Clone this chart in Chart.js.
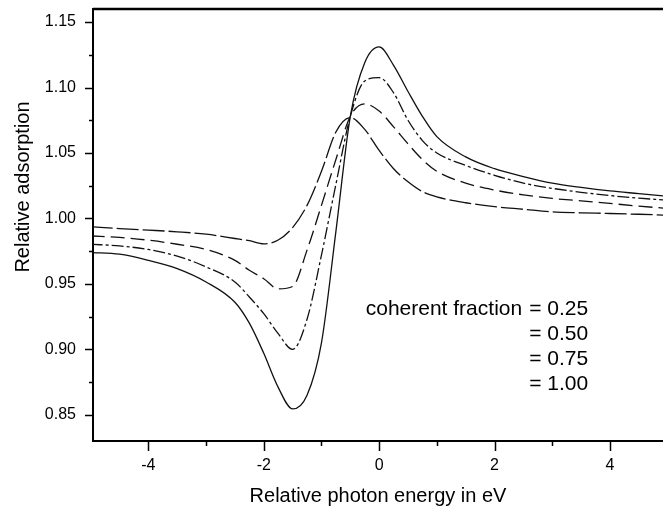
<!DOCTYPE html>
<html lang="en">
<head>
    <meta charset="UTF-8">
    <title>Relative adsorption vs photon energy</title>
    <script src="https://cdn.jsdelivr.net/npm/chart.js"></script>
    <style>
        html, body { margin: 0; padding: 0; background: #fff; }
        #wrap { width: 663px; height: 514px; }
    </style>
</head>
<body>
    <div id="wrap"><canvas id="myChart" width="663" height="514"></canvas></div>
    <script>
        // relative photon energy (eV)
        const energy = [-5, -4.5, -4, -3.5, -3, -2.5, -2.25, -2, -1.75, -1.5, -1.25, -1, -0.75, -0.5, -0.25,
                        0, 0.25, 0.5, 0.75, 1, 1.5, 2, 2.5, 3, 3.5, 4, 4.5, 5];

        // relative adsorption for each coherent fraction
        const frac025 = [0.9936, 0.9923, 0.9911, 0.9898, 0.988, 0.9847, 0.983, 0.9806, 0.9835, 0.993, 1.010, 1.036, 1.066, 1.077, 1.068,
                         1.052, 1.038, 1.028, 1.0205, 1.0165, 1.012, 1.009, 1.007, 1.005, 1.0043, 1.0038, 1.0032, 1.0025];
        const frac050 = [0.9867, 0.9855, 0.9834, 0.9803, 0.9763, 0.968, 0.9604, 0.954, 0.9462, 0.948, 0.9758, 1.010, 1.045, 1.078, 1.0875,
                         1.082, 1.070, 1.057, 1.045, 1.036, 1.027, 1.0217, 1.018, 1.0153, 1.0135, 1.0115, 1.0094, 1.0077];
        const frac075 = [0.9803, 0.979, 0.9763, 0.9712, 0.963, 0.9515, 0.940, 0.9273, 0.912, 0.900, 0.923, 0.972, 1.026, 1.078, 1.105,
                         1.1076, 1.096, 1.075, 1.0595, 1.050, 1.0405, 1.033, 1.027, 1.023, 1.020, 1.0175, 1.0155, 1.014];
        const frac100 = [0.974, 0.9727, 0.968, 0.9617, 0.9515, 0.936, 0.920, 0.897, 0.871, 0.8545, 0.865, 0.905, 0.99, 1.078, 1.119,
                         1.131, 1.117, 1.097, 1.078, 1.0625, 1.047, 1.038, 1.032, 1.027, 1.0237, 1.021, 1.019, 1.017];

        const fractionLabels = ['0.25', '0.50', '0.75', '1.00'];
        const xTickLabels = [-4, -2, 0, 2, 4];
        const yTickLabels = [0.85, 0.90, 0.95, 1.00, 1.05, 1.10, 1.15];

        const series = [frac025, frac050, frac075, frac100];
        const dashes = [[22, 4], [14, 6], [12, 3, 3, 3], []];

        const toPoints = vals => vals.map((v, i) => ({ x: energy[i], y: v }));

        const isLabelled = (list, v) => list.some(t => Math.abs(t - v) < 1e-6);

        // tick marks (long for labelled ticks, short for the others), frame top line, text block
        const decorPlugin = {
            id: 'decor',
            afterDraw(chart) {
                const ctx = chart.ctx;
                const area = chart.chartArea;
                const xs = chart.scales.x;
                const ys = chart.scales.y;
                ctx.save();
                ctx.strokeStyle = '#000';
                ctx.lineWidth = 1.5;
                xs.ticks.forEach(t => {
                    const px = Math.round(xs.getPixelForValue(t.value)) + 0.5;
                    const len = isLabelled(xTickLabels, t.value) ? 10 : 5;
                    ctx.beginPath();
                    ctx.moveTo(px, area.bottom);
                    ctx.lineTo(px, area.bottom + len);
                    ctx.stroke();
                });
                ys.ticks.forEach(t => {
                    const py = Math.round(ys.getPixelForValue(t.value)) + 0.5;
                    const len = isLabelled(yTickLabels, t.value) ? 8 : 4;
                    ctx.beginPath();
                    ctx.moveTo(area.left, py);
                    ctx.lineTo(area.left - len, py);
                    ctx.stroke();
                });

                // top frame line
                ctx.lineWidth = 2.5;
                ctx.beginPath();
                ctx.moveTo(area.left, area.top);
                ctx.lineTo(area.right, area.top);
                ctx.stroke();

                // y axis title
                ctx.fillStyle = '#000';
                ctx.font = '20px "Liberation Sans", Arial, sans-serif';
                ctx.textAlign = 'center';
                ctx.textBaseline = 'middle';
                ctx.translate(23, (area.top + area.bottom) / 2 - 38);
                ctx.rotate(-Math.PI / 2);
                ctx.fillText('Relative adsorption', 0, 0);
                ctx.restore();

                // coherent fraction text block
                ctx.save();
                ctx.fillStyle = '#000';
                ctx.font = '21px "Liberation Sans", Arial, sans-serif';
                ctx.textBaseline = 'middle';
                const eqX = xs.getPixelForValue(2.6);
                const row0 = ys.getPixelForValue(0.931);
                fractionLabels.forEach((lab, i) => {
                    const py = row0 + i * 25;
                    if (i === 0) {
                        ctx.textAlign = 'right';
                        ctx.fillText('coherent fraction', eqX - 7, py);
                    }
                    ctx.textAlign = 'left';
                    ctx.fillText('= ' + lab, eqX, py);
                });
                ctx.restore();
            }
        };

        const ctx = document.getElementById('myChart').getContext('2d');
        const myChart = new Chart(ctx, {
            type: 'line',
            data: {
                datasets: series.map((vals, i) => ({
                    label: 'coherent fraction = ' + fractionLabels[i],
                    data: toPoints(vals),
                    borderColor: '#111',
                    borderWidth: 1.3,
                    borderDash: dashes[i],
                    pointRadius: 0,
                    cubicInterpolationMode: 'monotone',
                    fill: false
                }))
            },
            options: {
                responsive: false,
                animation: false,
                layout: { padding: { top: 9, right: 0, left: 0, bottom: 0 } },
                plugins: {
                    legend: { display: false },
                    tooltip: { enabled: false }
                },
                scales: {
                    x: {
                        type: 'linear',
                        position: 'bottom',
                        min: -4.96,
                        max: 4.92,
                        afterFit: scale => {
                            scale.height = 73;
                            scale.paddingLeft = 0;
                            scale.paddingRight = 0;
                        },
                        grid: { display: false, drawTicks: false },
                        border: { display: true, color: '#000', width: 2 },
                        ticks: {
                            stepSize: 1,
                            includeBounds: false,
                            padding: 15,
                            maxRotation: 0,
                            autoSkip: false,
                            color: '#000',
                            font: { family: '"Liberation Sans", Arial, sans-serif', size: 16 },
                            callback: v => isLabelled(xTickLabels, v) ? String(Math.round(v)) : ''
                        },
                        title: {
                            display: true,
                            text: 'Relative photon energy in eV',
                            color: '#000',
                            font: { family: '"Liberation Sans", Arial, sans-serif', size: 20 },
                            padding: { top: 0, bottom: 6 }
                        }
                    },
                    y: {
                        type: 'linear',
                        position: 'left',
                        min: 0.83,
                        max: 1.16,
                        afterFit: scale => {
                            scale.width = 93;
                            scale.paddingTop = 0;
                            scale.paddingBottom = 0;
                        },
                        grid: { display: false, drawTicks: false },
                        border: { display: true, color: '#000', width: 2 },
                        ticks: {
                            stepSize: 0.025,
                            includeBounds: false,
                            padding: 17,
                            autoSkip: false,
                            color: '#000',
                            font: { family: '"Liberation Sans", Arial, sans-serif', size: 16 },
                            callback: v => isLabelled(yTickLabels, v) ? v.toFixed(2) : ''
                        }
                    }
                }
            },
            plugins: [decorPlugin]
        });
    </script>
</body>
</html>
